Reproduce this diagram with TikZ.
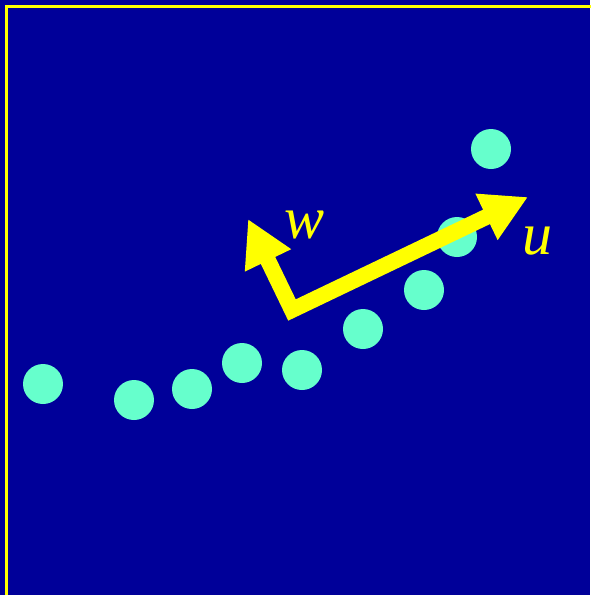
\documentclass[tikz,border=0pt]{standalone}
\usepackage{fontspec}
\setmainfont{Liberation Serif}
\usetikzlibrary{arrows.meta}
\definecolor{slideblue}{RGB}{0,0,153}
\definecolor{dotgreen}{RGB}{102,255,204}
\definecolor{axisyellow}{RGB}{255,255,0}

\begin{document}
\begin{tikzpicture}[x=1pt, y=-1pt,
    datapt/.style={circle, fill=dotgreen, minimum size=40pt, inner sep=0pt},
    axisarrow/.style={axisyellow, line width=16pt, line join=miter,
        {Triangle[length=46pt, width=48pt]}-{Triangle[length=46pt, width=48pt]}},
    axislabel/.style={text=axisyellow, font=\fontsize{60}{62}\selectfont\itshape}]
    \fill[slideblue] (0,0) rectangle (590,595);
    \useasboundingbox (0,0) rectangle (590,595);
    % frame
    \draw[axisyellow, line width=3pt] (6.5,620) -- (6.5,6.5) -- (620,6.5);
    % data points
    \foreach \n/\x/\y in {p1/43/384, p2/134/400, p3/192/389, p4/242/363,
        p5/302/370, p6/363/329, p7/424/290, p8/457/237, p9/491/149} {
        \node[datapt] (\n) at (\x,\y) {};
    }
    % axes
    \coordinate (origin) at (292,310);
    \coordinate (utip) at (528,197);
    \coordinate (wtip) at (248,219);
    \draw[axisarrow] (wtip) -- (origin) -- (utip);
    \node[axislabel] (ulabel) at (537,241) {u};
    \node[axislabel] (wlabel) at (305,225) {w};
\end{tikzpicture}
\end{document}
